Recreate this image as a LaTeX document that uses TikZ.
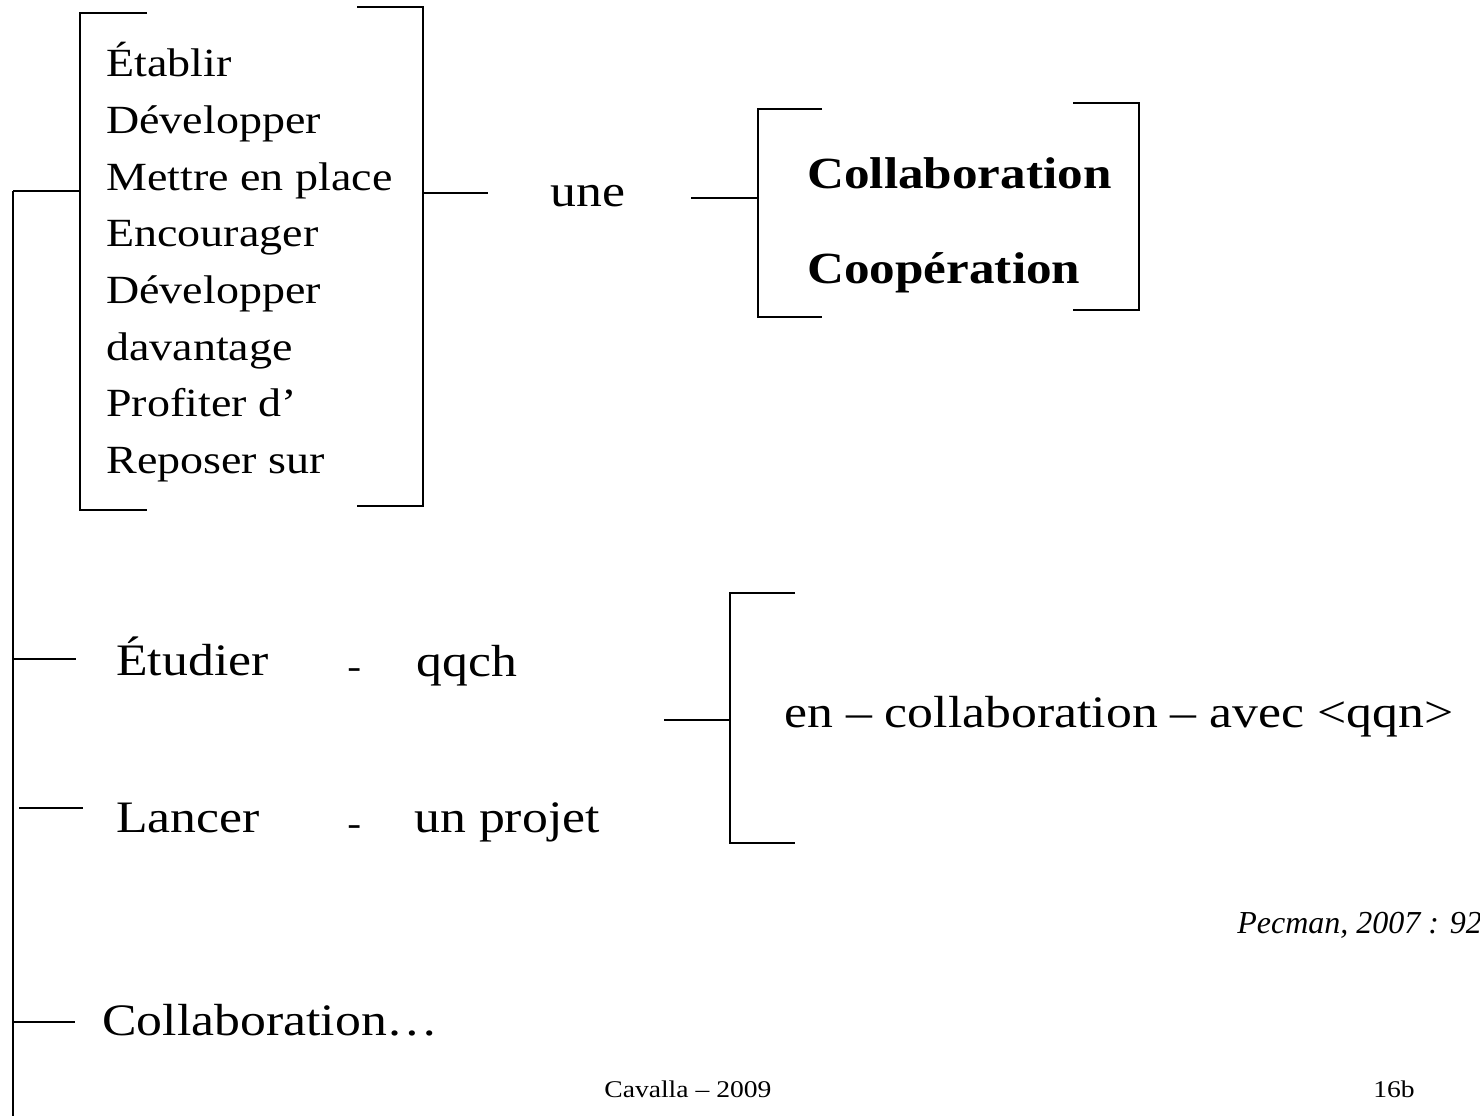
\documentclass[tikz,border=0pt]{standalone}
\usepackage{fontspec}
\setmainfont[FakeStretch=1.15]{Liberation Serif}
\newfontfamily\plainserif{Liberation Serif}
\begin{document}
\begin{tikzpicture}[x=1pt,y=-1pt,line width=2.7pt,
  lst/.style={anchor=base west,inner sep=0pt,font=\fontsize{40}{48}\selectfont},
  big/.style={anchor=base west,inner sep=0pt,font=\fontsize{45}{54}\selectfont},
  dsh/.style={anchor=base west,inner sep=0pt,font=\fontsize{36}{40}\selectfont},
  bld/.style={anchor=base west,inner sep=0pt,font=\fontsize{44.5}{54}\selectfont\bfseries},
  cite/.style={anchor=base west,inner sep=0pt,font=\plainserif\itshape\fontsize{32}{38}\selectfont},
  foot/.style={anchor=base west,inner sep=0pt,font=\fontsize{24}{29}\selectfont}]
\useasboundingbox (0,0) rectangle (1480,1116);

% first bracket box with verbs
\node[lst] (l1) at (105,77) {Établir};
\node[lst] (l2) at (105,133.6) {Développer};
\node[lst] (l3) at (105,190.2) {Mettre en place};
\node[lst] (l4) at (105,246.8) {Encourager};
\node[lst] (l5) at (105,303.4) {Développer};
\node[lst] (l6) at (105,360) {davantage};
\node[lst] (l7) at (105,416.6) {Profiter d’};
\node[lst] (l8) at (105,473.2) {Reposer sur};
\draw (147,13) -- (80,13) -- (80,510) -- (147,510);
\draw (357,7) -- (423,7) -- (423,506) -- (357,506);

\node[big] (une) at (549,206) {une};

% second bracket box
\node[bld] (collab) at (806,188) {Collaboration};
\node[bld] (coop) at (806,283) {Coopération};
\draw (822,109) -- (758,109) -- (758,317) -- (822,317);
\draw (1073,103) -- (1139,103) -- (1139,310) -- (1073,310);

% lower rows
\node[big] (etud) at (115,675) {Étudier};
\node[dsh] (d1) at (346,678) {-};
\node[big] (qqch) at (415,676) {qqch};
\node[big] (lanc) at (115,832) {Lancer};
\node[dsh] (d2) at (346,835) {-};
\node[big] (proj) at (413,832) {un projet};
\draw (795,593) -- (730,593) -- (730,843) -- (795,843);
\node[big] (enco) at (783,727) {en – collaboration – avec <qqn>};

\node[big] (collab2) at (101,1035) {Collaboration…};

\node[cite] (pec) at (1236,933) {Pecman, 2007 : 92};
\node[foot] (cav) at (603,1097) {Cavalla – 2009};
\node[foot] (num) at (1372,1097) {16b};

% connectors
\coordinate (trTop) at (13,191);
\coordinate (trBot) at (13,1116);
\coordinate (b1in) at (80,191);
\coordinate (b1out) at (423,193);
\coordinate (c1end) at (488,193);
\coordinate (c2start) at (691,198);
\coordinate (b2in) at (758,198);
\coordinate (trEt) at (13,659);
\coordinate (etEnd) at (76,659);
\coordinate (laStart) at (19,808);
\coordinate (laEnd) at (83,808);
\coordinate (trCo) at (13,1022);
\coordinate (coEnd) at (75,1022);
\coordinate (c3start) at (664,720);
\coordinate (b3in) at (730,720);

\draw (trTop) -- (trBot);
\draw (trTop) -- (b1in);
\draw (b1out) -- (c1end);
\draw (c2start) -- (b2in);
\draw (trEt) -- (etEnd);
\draw (laStart) -- (laEnd);
\draw (trCo) -- (coEnd);
\draw (c3start) -- (b3in);
\end{tikzpicture}
\end{document}
